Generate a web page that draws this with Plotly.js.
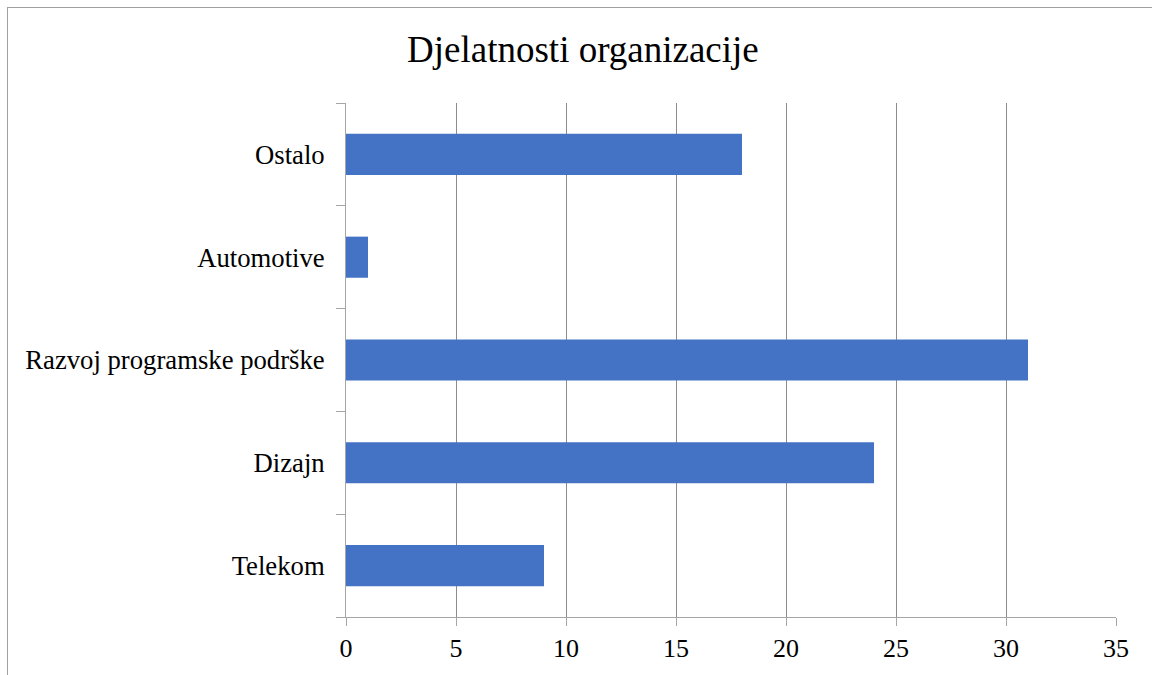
<!DOCTYPE html>
<html>
<head>
<meta charset="utf-8">
<script src="https://cdn.plot.ly/plotly-3.0.1.min.js"></script>
<style>
  html, body { margin: 0; padding: 0; background: #fff; }
  #wrap { position: relative; width: 1152px; height: 675px; }
  #chart { width: 1152px; height: 675px; }
  #frame { position: absolute; left: 7px; top: 7px; right: -2px; bottom: -2px;
           border-left: 1px solid #a0a0a0; border-top: 1px solid #a0a0a0; pointer-events: none; }
</style>
</head>
<body>
<div id="wrap">
  <div id="chart"></div>
  <div id="frame"></div>
</div>
<script>
const categories = ["Telekom", "Dizajn", "Razvoj programske podrške", "Automotive", "Ostalo"];
const values = [9, 24, 31, 1, 18];
const xTicks = [0, 5, 10, 15, 20, 25, 30, 35];
const chartTitle = "Djelatnosti organizacije";

const serif = "'Liberation Serif', 'Times New Roman', serif";

const trace = {
  type: "bar",
  orientation: "h",
  y: categories,
  x: values,
  marker: { color: "#4472C4" },
  hoverinfo: "x+y"
};

const layout = {
  width: 1152,
  height: 675,
  margin: { l: 346, r: 36, t: 103, b: 58 },
  paper_bgcolor: "#ffffff",
  plot_bgcolor: "#ffffff",
  showlegend: false,
  bargap: 0.6,
  font: { family: serif, color: "#000000", size: 26 },
  title: {
    text: chartTitle,
    font: { family: serif, size: 37, color: "#000000" },
    xref: "container",
    x: 0.506,
    xanchor: "center",
    yref: "container",
    y: 1 - 62 / 675,
    yanchor: "bottom"
  },
  xaxis: {
    range: [0, 35],
    tickvals: xTicks,
    ticktext: xTicks.map(String),
    showgrid: true,
    gridcolor: "#8c8c8c",
    gridwidth: 1,
    zeroline: false,
    showline: true,
    linecolor: "#a6a6a6",
    linewidth: 1,
    ticks: "outside",
    ticklen: 8,
    tickcolor: "#a6a6a6",
    tickfont: { family: serif, size: 26, color: "#000" },
    fixedrange: true
  },
  yaxis: {
    type: "category",
    categoryorder: "array",
    categoryarray: categories,
    range: [-0.5, 4.5],
    showgrid: false,
    zeroline: false,
    showline: true,
    linecolor: "#a6a6a6",
    linewidth: 1,
    ticks: "outside",
    tickson: "boundaries",
    ticklen: 9,
    tickcolor: "#a6a6a6",
    ticklabelstandoff: 15,
    tickfont: { family: serif, size: 26.7, color: "#000" },
    fixedrange: true
  }
};

Plotly.newPlot("chart", [trace], layout, { displayModeBar: false, staticPlot: true });
</script>
</body>
</html>
